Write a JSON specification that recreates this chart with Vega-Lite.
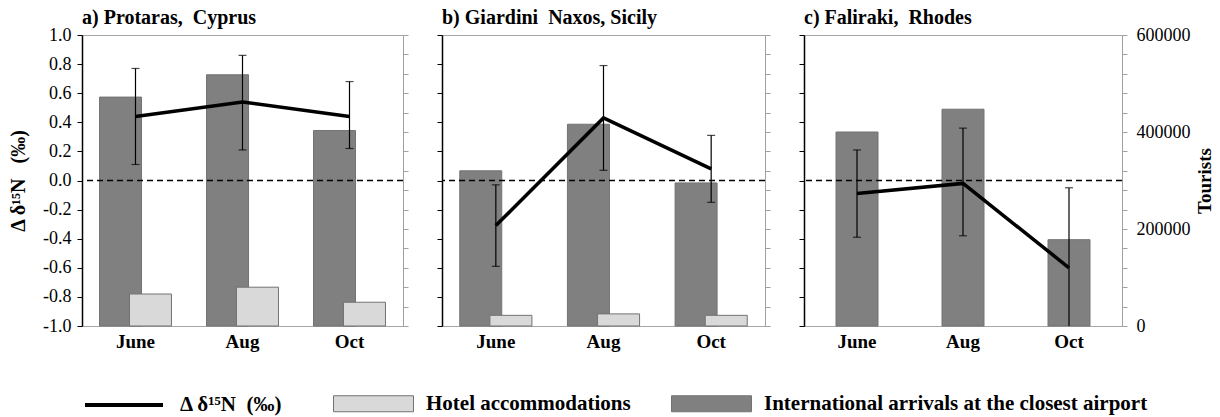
{
  "$schema": "https://vega.github.io/schema/vega-lite/v6.json",
  "background": "white",
  "padding": {"left": 8, "top": 7, "right": 5, "bottom": 5},
  "datasets": {
    "tourists": [
      {"site": "a", "month": "June", "series": "International arrivals at the closest airport", "tourists": 472000},
      {"site": "a", "month": "Aug", "series": "International arrivals at the closest airport", "tourists": 518000},
      {"site": "a", "month": "Oct", "series": "International arrivals at the closest airport", "tourists": 403000},
      {"site": "a", "month": "June", "series": "Hotel accommodations", "tourists": 66000},
      {"site": "a", "month": "Aug", "series": "Hotel accommodations", "tourists": 80000},
      {"site": "a", "month": "Oct", "series": "Hotel accommodations", "tourists": 49000},
      {"site": "b", "month": "June", "series": "International arrivals at the closest airport", "tourists": 320000},
      {"site": "b", "month": "Aug", "series": "International arrivals at the closest airport", "tourists": 416000},
      {"site": "b", "month": "Oct", "series": "International arrivals at the closest airport", "tourists": 295000},
      {"site": "b", "month": "June", "series": "Hotel accommodations", "tourists": 22000},
      {"site": "b", "month": "Aug", "series": "Hotel accommodations", "tourists": 25000},
      {"site": "b", "month": "Oct", "series": "Hotel accommodations", "tourists": 22000},
      {"site": "c", "month": "June", "series": "International arrivals at the closest airport", "tourists": 400000},
      {"site": "c", "month": "Aug", "series": "International arrivals at the closest airport", "tourists": 447000},
      {"site": "c", "month": "Oct", "series": "International arrivals at the closest airport", "tourists": 178000}
    ],
    "isotope": [
      {"site": "a", "month": "June", "d15n": 0.44, "lo": 0.11, "hi": 0.77},
      {"site": "a", "month": "Aug", "d15n": 0.54, "lo": 0.21, "hi": 0.86},
      {"site": "a", "month": "Oct", "d15n": 0.44, "lo": 0.22, "hi": 0.68},
      {"site": "b", "month": "June", "d15n": -0.31, "lo": -0.59, "hi": -0.03},
      {"site": "b", "month": "Aug", "d15n": 0.43, "lo": 0.07, "hi": 0.79},
      {"site": "b", "month": "Oct", "d15n": 0.08, "lo": -0.15, "hi": 0.31},
      {"site": "c", "month": "June", "d15n": -0.09, "lo": -0.39, "hi": 0.21},
      {"site": "c", "month": "Aug", "d15n": -0.02, "lo": -0.38, "hi": 0.36},
      {"site": "c", "month": "Oct", "d15n": -0.6, "lo": -1.15, "hi": -0.05}
    ],
    "reference": [{"level": 0}]
  },
  "config": {
    "font": "Liberation Serif",
    "view": {"stroke": "#a6a6a6", "strokeWidth": 1},
    "axis": {"labelFont": "Liberation Serif", "titleFont": "Liberation Serif", "labelColor": "black", "titleColor": "black", "grid": false},
    "title": {"font": "Liberation Serif", "fontSize": 20, "fontWeight": "bold", "anchor": "start", "frame": "group", "color": "black", "offset": -2},
    "legend": {"labelFont": "Liberation Serif", "labelFontSize": 21, "labelFontWeight": "bold", "labelColor": "black", "padding": 0, "labelLimit": 0}
  },
  "spacing": 27,
  "resolve": {"scale": {"xOffset": "independent"}},
  "hconcat": [
    {
      "width": 321,
      "height": 291,
      "title": {"text": "a) Protaras,\u00a0 Cyprus"},
      "layer": [
        {
          "data": {"name": "tourists"},
          "transform": [{"filter": "datum.site === 'a'"}],
          "mark": {"type": "bar", "width": 42, "stroke": "#737373", "strokeWidth": 1},
          "encoding": {
            "x": {"field": "month", "type": "nominal", "sort": ["June", "Aug", "Oct"], "scale": {"paddingInner": 0.44, "paddingOuter": 0.22},
                  "axis": {"title": null, "labelAngle": 0, "ticks": false, "domain": false, "labelFontSize": 19, "labelFontWeight": "bold", "labelPadding": 6}},
            "xOffset": {"field": "series", "type": "nominal", "sort": ["International arrivals at the closest airport", "Hotel accommodations"], "scale": {"paddingInner": 0, "paddingOuter": 0}},
            "y": {"field": "tourists", "type": "quantitative", "stack": null, "scale": {"domain": [0, 600000], "nice": false},
                  "axis": {"orient": "right", "title": null, "labels": false, "values": [0, 40000, 80000, 120000, 160000, 200000, 240000, 280000, 320000, 360000, 400000, 440000, 480000, 520000, 560000, 600000], "tickColor": "#a0a0a0", "tickSize": 5, "domainColor": "#a0a0a0"}},
            "fill": {"field": "series", "type": "nominal", "scale": {"domain": ["Hotel accommodations", "International arrivals at the closest airport"], "range": ["#d9d9d9", "#808080"]},
                     "legend": {"orient": "none", "legendX": 251, "legendY": 328, "direction": "horizontal", "title": null, "symbolType": "M-1,-0.2H1V0.2H-1Z", "symbolSize": 6400, "symbolStrokeColor": "#737373", "symbolStrokeWidth": 1, "labelOffset": 12, "columnPadding": 38}}
          }
        },
        {
          "layer": [
            {
              "data": {"name": "reference"},
              "mark": {"type": "rule", "strokeDash": [6, 4], "strokeWidth": 1.3, "color": "black"},
              "encoding": {
                "y": {"field": "level", "type": "quantitative", "scale": {"domain": [-1, 1], "nice": false},
                      "axis": {"orient": "left", "title": "Δ δ¹⁵N\u00a0\u00a0 (‰)", "titleFontSize": 20, "titleFontWeight": "bold", "titlePadding": 14, "values": [-1, -0.8, -0.6, -0.4, -0.2, 0, 0.2, 0.4, 0.6, 0.8, 1], "labelExpr": "datum.value < 0 ? '-' + format(-datum.value, '.1f') : format(datum.value, '.1f')", "labelFontSize": 18, "labelPadding": 6, "labelFlush": false, "labelOverlap": false, "tickColor": "black", "tickSize": 5, "domainColor": "black", "domainWidth": 1.5}}
              }
            },
            {
              "data": {"name": "isotope"},
              "transform": [{"filter": "datum.site === 'a'"}],
              "layer": [
                {
                  "mark": {"type": "rule", "color": "black", "strokeWidth": 1.2, "clip": true},
                  "encoding": {
                    "x": {"field": "month", "type": "nominal", "sort": ["June", "Aug", "Oct"]},
                    "y": {"field": "lo", "type": "quantitative", "scale": {"domain": [-1, 1], "nice": false},
                          "axis": {"orient": "left", "title": "Δ δ¹⁵N\u00a0\u00a0 (‰)", "titleFontSize": 20, "titleFontWeight": "bold", "titlePadding": 14, "values": [-1, -0.8, -0.6, -0.4, -0.2, 0, 0.2, 0.4, 0.6, 0.8, 1], "labelExpr": "datum.value < 0 ? '-' + format(-datum.value, '.1f') : format(datum.value, '.1f')", "labelFontSize": 18, "labelPadding": 6, "labelFlush": false, "labelOverlap": false, "tickColor": "black", "tickSize": 5, "domainColor": "black", "domainWidth": 1.5}},
                    "y2": {"field": "hi"}
                  }
                },
                {
                  "mark": {"type": "tick", "color": "black", "thickness": 1.2, "size": 8, "clip": true},
                  "encoding": {
                    "x": {"field": "month", "type": "nominal", "sort": ["June", "Aug", "Oct"]},
                    "y": {"field": "lo", "type": "quantitative", "scale": {"domain": [-1, 1], "nice": false},
                          "axis": {"orient": "left", "title": "Δ δ¹⁵N\u00a0\u00a0 (‰)", "titleFontSize": 20, "titleFontWeight": "bold", "titlePadding": 14, "values": [-1, -0.8, -0.6, -0.4, -0.2, 0, 0.2, 0.4, 0.6, 0.8, 1], "labelExpr": "datum.value < 0 ? '-' + format(-datum.value, '.1f') : format(datum.value, '.1f')", "labelFontSize": 18, "labelPadding": 6, "labelFlush": false, "labelOverlap": false, "tickColor": "black", "tickSize": 5, "domainColor": "black", "domainWidth": 1.5}}
                  }
                },
                {
                  "mark": {"type": "tick", "color": "black", "thickness": 1.2, "size": 8, "clip": true},
                  "encoding": {
                    "x": {"field": "month", "type": "nominal", "sort": ["June", "Aug", "Oct"]},
                    "y": {"field": "hi", "type": "quantitative", "scale": {"domain": [-1, 1], "nice": false},
                          "axis": {"orient": "left", "title": "Δ δ¹⁵N\u00a0\u00a0 (‰)", "titleFontSize": 20, "titleFontWeight": "bold", "titlePadding": 14, "values": [-1, -0.8, -0.6, -0.4, -0.2, 0, 0.2, 0.4, 0.6, 0.8, 1], "labelExpr": "datum.value < 0 ? '-' + format(-datum.value, '.1f') : format(datum.value, '.1f')", "labelFontSize": 18, "labelPadding": 6, "labelFlush": false, "labelOverlap": false, "tickColor": "black", "tickSize": 5, "domainColor": "black", "domainWidth": 1.5}}
                  }
                },
                {
                  "mark": {"type": "line", "strokeWidth": 3.5},
                  "encoding": {
                    "x": {"field": "month", "type": "nominal", "sort": ["June", "Aug", "Oct"]},
                    "y": {"field": "d15n", "type": "quantitative", "scale": {"domain": [-1, 1], "nice": false},
                          "axis": {"orient": "left", "title": "Δ δ¹⁵N\u00a0\u00a0 (‰)", "titleFontSize": 20, "titleFontWeight": "bold", "titlePadding": 14, "values": [-1, -0.8, -0.6, -0.4, -0.2, 0, 0.2, 0.4, 0.6, 0.8, 1], "labelExpr": "datum.value < 0 ? '-' + format(-datum.value, '.1f') : format(datum.value, '.1f')", "labelFontSize": 18, "labelPadding": 6, "labelFlush": false, "labelOverlap": false, "tickColor": "black", "tickSize": 5, "domainColor": "black", "domainWidth": 1.5}},
                    "order": {"value": null},
                    "stroke": {"datum": "Δ δ¹⁵N\u00a0 (‰)", "type": "nominal", "scale": {"range": ["black"]},
                               "legend": {"orient": "none", "legendX": 1, "legendY": 329, "title": null, "symbolType": "stroke", "symbolSize": 6084, "symbolStrokeWidth": 4, "labelOffset": 15}}
                  }
                }
              ]
            }
          ]
        }
      ],
      "resolve": {"scale": {"y": "independent"}, "axis": {"y": "independent"}}
    },
    {
      "width": 323,
      "height": 291,
      "title": {"text": "b) Giardini\u00a0 Naxos, Sicily", "offset": 7},
      "layer": [
        {
          "data": {"name": "tourists"},
          "transform": [{"filter": "datum.site === 'b'"}],
          "mark": {"type": "bar", "width": 42, "stroke": "#737373", "strokeWidth": 1},
          "encoding": {
            "x": {"field": "month", "type": "nominal", "sort": ["June", "Aug", "Oct"], "scale": {"paddingInner": 0.44, "paddingOuter": 0.22},
                  "axis": {"title": null, "labelAngle": 0, "ticks": false, "domain": false, "labelFontSize": 19, "labelFontWeight": "bold", "labelPadding": 6}},
            "xOffset": {"field": "series", "type": "nominal", "sort": ["International arrivals at the closest airport", "Hotel accommodations"], "scale": {"paddingInner": 0, "paddingOuter": 0}},
            "y": {"field": "tourists", "type": "quantitative", "stack": null, "scale": {"domain": [0, 600000], "nice": false},
                  "axis": {"orient": "right", "title": null, "labels": false, "values": [0, 40000, 80000, 120000, 160000, 200000, 240000, 280000, 320000, 360000, 400000, 440000, 480000, 520000, 560000, 600000], "tickColor": "#a0a0a0", "tickSize": 5, "domainColor": "#a0a0a0"}},
            "fill": {"field": "series", "type": "nominal", "scale": {"domain": ["Hotel accommodations", "International arrivals at the closest airport"], "range": ["#d9d9d9", "#808080"]}}
          }
        },
        {
          "layer": [
            {
              "data": {"name": "reference"},
              "mark": {"type": "rule", "strokeDash": [6, 4], "strokeWidth": 1.3, "color": "black"},
              "encoding": {
                "y": {"field": "level", "type": "quantitative", "scale": {"domain": [-1, 1], "nice": false},
                      "axis": {"orient": "left", "title": null, "labels": false, "values": [-1, -0.8, -0.6, -0.4, -0.2, 0, 0.2, 0.4, 0.6, 0.8, 1], "tickColor": "black", "tickSize": 5, "domainColor": "black", "domainWidth": 1.5}}
              }
            },
            {
              "data": {"name": "isotope"},
              "transform": [{"filter": "datum.site === 'b'"}],
              "layer": [
                {
                  "mark": {"type": "rule", "color": "black", "strokeWidth": 1.2, "clip": true},
                  "encoding": {
                    "x": {"field": "month", "type": "nominal", "sort": ["June", "Aug", "Oct"]},
                    "y": {"field": "lo", "type": "quantitative", "scale": {"domain": [-1, 1], "nice": false},
                          "axis": {"orient": "left", "title": null, "labels": false, "values": [-1, -0.8, -0.6, -0.4, -0.2, 0, 0.2, 0.4, 0.6, 0.8, 1], "tickColor": "black", "tickSize": 5, "domainColor": "black", "domainWidth": 1.5}},
                    "y2": {"field": "hi"}
                  }
                },
                {
                  "mark": {"type": "tick", "color": "black", "thickness": 1.2, "size": 8, "clip": true},
                  "encoding": {
                    "x": {"field": "month", "type": "nominal", "sort": ["June", "Aug", "Oct"]},
                    "y": {"field": "lo", "type": "quantitative", "scale": {"domain": [-1, 1], "nice": false},
                          "axis": {"orient": "left", "title": null, "labels": false, "values": [-1, -0.8, -0.6, -0.4, -0.2, 0, 0.2, 0.4, 0.6, 0.8, 1], "tickColor": "black", "tickSize": 5, "domainColor": "black", "domainWidth": 1.5}}
                  }
                },
                {
                  "mark": {"type": "tick", "color": "black", "thickness": 1.2, "size": 8, "clip": true},
                  "encoding": {
                    "x": {"field": "month", "type": "nominal", "sort": ["June", "Aug", "Oct"]},
                    "y": {"field": "hi", "type": "quantitative", "scale": {"domain": [-1, 1], "nice": false},
                          "axis": {"orient": "left", "title": null, "labels": false, "values": [-1, -0.8, -0.6, -0.4, -0.2, 0, 0.2, 0.4, 0.6, 0.8, 1], "tickColor": "black", "tickSize": 5, "domainColor": "black", "domainWidth": 1.5}}
                  }
                },
                {
                  "mark": {"type": "line", "strokeWidth": 3.5, "color": "black"},
                  "encoding": {
                    "x": {"field": "month", "type": "nominal", "sort": ["June", "Aug", "Oct"]},
                    "y": {"field": "d15n", "type": "quantitative", "scale": {"domain": [-1, 1], "nice": false},
                          "axis": {"orient": "left", "title": null, "labels": false, "values": [-1, -0.8, -0.6, -0.4, -0.2, 0, 0.2, 0.4, 0.6, 0.8, 1], "tickColor": "black", "tickSize": 5, "domainColor": "black", "domainWidth": 1.5}},
                    "order": {"value": null}
                  }
                }
              ]
            }
          ]
        }
      ],
      "resolve": {"scale": {"y": "independent"}, "axis": {"y": "independent"}}
    },
    {
      "width": 318,
      "height": 291,
      "title": {"text": "c) Faliraki,\u00a0 Rhodes"},
      "layer": [
        {
          "data": {"name": "tourists"},
          "transform": [{"filter": "datum.site === 'c'"}],
          "mark": {"type": "bar", "width": 42, "stroke": "#737373", "strokeWidth": 1},
          "encoding": {
            "x": {"field": "month", "type": "nominal", "sort": ["June", "Aug", "Oct"], "scale": {"paddingInner": 0.44, "paddingOuter": 0.22},
                  "axis": {"title": null, "labelAngle": 0, "ticks": false, "domain": false, "labelFontSize": 19, "labelFontWeight": "bold", "labelPadding": 6}},
            "y": {"field": "tourists", "type": "quantitative", "stack": null, "scale": {"domain": [0, 600000], "nice": false},
                  "axis": {"orient": "right", "title": "Tourists", "titleFontSize": 19, "titleFontWeight": "bold", "titleAngle": 270, "titlePadding": 24,
                           "values": [0, 40000, 80000, 120000, 160000, 200000, 240000, 280000, 320000, 360000, 400000, 440000, 480000, 520000, 560000, 600000],
                           "labelExpr": "datum.value % 200000 === 0 ? format(datum.value, 'd') : ''",
                           "labelFontSize": 18, "labelPadding": 9, "labelFlush": false, "labelOverlap": false,
                           "tickColor": "#a0a0a0", "tickSize": 5, "domainColor": "#a0a0a0"}},
            "fill": {"field": "series", "type": "nominal", "scale": {"domain": ["Hotel accommodations", "International arrivals at the closest airport"], "range": ["#d9d9d9", "#808080"]}}
          }
        },
        {
          "layer": [
            {
              "data": {"name": "reference"},
              "mark": {"type": "rule", "strokeDash": [6, 4], "strokeWidth": 1.3, "color": "black"},
              "encoding": {
                "y": {"field": "level", "type": "quantitative", "scale": {"domain": [-1, 1], "nice": false},
                      "axis": {"orient": "left", "title": null, "labels": false, "values": [-1, -0.8, -0.6, -0.4, -0.2, 0, 0.2, 0.4, 0.6, 0.8, 1], "tickColor": "black", "tickSize": 5, "domainColor": "black", "domainWidth": 1.5}}
              }
            },
            {
              "data": {"name": "isotope"},
              "transform": [{"filter": "datum.site === 'c'"}],
              "layer": [
                {
                  "mark": {"type": "rule", "color": "black", "strokeWidth": 1.2, "clip": true},
                  "encoding": {
                    "x": {"field": "month", "type": "nominal", "sort": ["June", "Aug", "Oct"]},
                    "y": {"field": "lo", "type": "quantitative", "scale": {"domain": [-1, 1], "nice": false},
                          "axis": {"orient": "left", "title": null, "labels": false, "values": [-1, -0.8, -0.6, -0.4, -0.2, 0, 0.2, 0.4, 0.6, 0.8, 1], "tickColor": "black", "tickSize": 5, "domainColor": "black", "domainWidth": 1.5}},
                    "y2": {"field": "hi"}
                  }
                },
                {
                  "mark": {"type": "tick", "color": "black", "thickness": 1.2, "size": 8, "clip": true},
                  "encoding": {
                    "x": {"field": "month", "type": "nominal", "sort": ["June", "Aug", "Oct"]},
                    "y": {"field": "lo", "type": "quantitative", "scale": {"domain": [-1, 1], "nice": false},
                          "axis": {"orient": "left", "title": null, "labels": false, "values": [-1, -0.8, -0.6, -0.4, -0.2, 0, 0.2, 0.4, 0.6, 0.8, 1], "tickColor": "black", "tickSize": 5, "domainColor": "black", "domainWidth": 1.5}}
                  }
                },
                {
                  "mark": {"type": "tick", "color": "black", "thickness": 1.2, "size": 8, "clip": true},
                  "encoding": {
                    "x": {"field": "month", "type": "nominal", "sort": ["June", "Aug", "Oct"]},
                    "y": {"field": "hi", "type": "quantitative", "scale": {"domain": [-1, 1], "nice": false},
                          "axis": {"orient": "left", "title": null, "labels": false, "values": [-1, -0.8, -0.6, -0.4, -0.2, 0, 0.2, 0.4, 0.6, 0.8, 1], "tickColor": "black", "tickSize": 5, "domainColor": "black", "domainWidth": 1.5}}
                  }
                },
                {
                  "mark": {"type": "line", "strokeWidth": 3.5, "color": "black"},
                  "encoding": {
                    "x": {"field": "month", "type": "nominal", "sort": ["June", "Aug", "Oct"]},
                    "y": {"field": "d15n", "type": "quantitative", "scale": {"domain": [-1, 1], "nice": false},
                          "axis": {"orient": "left", "title": null, "labels": false, "values": [-1, -0.8, -0.6, -0.4, -0.2, 0, 0.2, 0.4, 0.6, 0.8, 1], "tickColor": "black", "tickSize": 5, "domainColor": "black", "domainWidth": 1.5}},
                    "order": {"value": null}
                  }
                }
              ]
            }
          ]
        }
      ],
      "resolve": {"scale": {"y": "independent"}, "axis": {"y": "independent"}}
    }
  ]
}
